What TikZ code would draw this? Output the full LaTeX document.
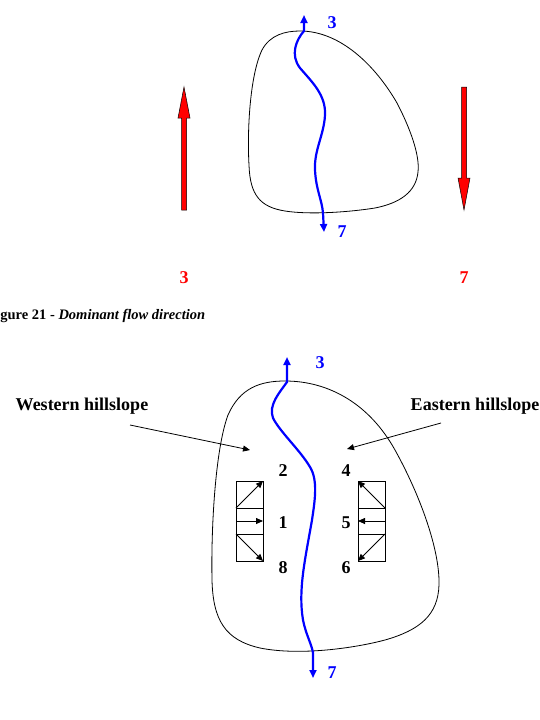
\documentclass[tikz,border=0pt]{standalone}
\usepackage{fontspec}
\setmainfont{Liberation Serif}
\usetikzlibrary{arrows.meta}

\begin{document}
\begin{tikzpicture}[x=1pt, y=-1pt, thick,
  outline/.style={line width=0.8pt, black},
  river/.style={line width=2.2pt, blue, {Triangle[length=8pt,width=7pt]}-{Triangle[length=8pt,width=7pt]}},
  bignum/.style={font=\fontsize{18}{20}\selectfont\bfseries, inner sep=0pt},
  redarrow/.style={fill=red, draw=black, line width=0.5pt},
  flowbox/.style={line width=0.8pt},
  flow/.style={line width=0.8pt, -{Triangle[length=7pt,width=6pt]}}]
  \useasboundingbox (0,0) rectangle (540,720);

  % Upper catchment outline
  \draw[outline] (300,31) .. controls (340,31) and (375,65) .. (397,103)
    .. controls (410,128) and (420,155) .. (418,172)
    .. controls (416,192) and (400,203) .. (375,208)
    .. controls (350,212) and (310,215) .. (285,211)
    .. controls (260,207) and (250,195) .. (249,165)
    .. controls (247,130) and (250,75) .. (262,50)
    .. controls (270,35) and (285,31) .. (300,31) -- cycle;

  % Upper stream
  \draw[river] (304,15) -- (304,31) .. controls (296,40) and (290,55) .. (300,68)
    .. controls (312,82) and (326,95) .. (325,115) .. controls (324,135) and (314,150) .. (315,170)
    .. controls (316,190) and (322,200) .. (323,213) -- (324,232);
  \node[bignum, blue] (up3) at (332,23) {3};
  \node[bignum, blue] (up7) at (342,232) {7};

  % Red arrows for dominant direction
  \filldraw[redarrow] (181.5,210) -- (181.5,118) -- (178,118) -- (184,87) -- (190,118) -- (186.5,118) -- (186.5,210) -- cycle;
  \filldraw[redarrow] (461.5,87) -- (461.5,178) -- (458,178) -- (464,210) -- (470,178) -- (466.5,178) -- (466.5,87) -- cycle;
  \node[bignum, red] (red3) at (184,278) {3};
  \node[bignum, red] (red7) at (464,278) {7};

  % Caption
  \node[anchor=west, inner sep=0pt, font=\fontsize{14.5}{16}\selectfont\bfseries] (caption) at (0,316) {gure 21 - \textit{Dominant flow direction}};

  % Lower catchment outline
  \draw[outline] (285,381) .. controls (330,381) and (370,405) .. (395,450)
    .. controls (420,495) and (440,550) .. (439,585)
    .. controls (438,615) and (420,630) .. (385,640)
    .. controls (355,648) and (300,656) .. (260,648)
    .. controls (225,640) and (213,620) .. (212,580)
    .. controls (211,530) and (215,450) .. (228,415)
    .. controls (240,388) and (260,381) .. (285,381) -- cycle;

  % Lower stream
  \draw[river] (287,357) -- (287,382) .. controls (280,392) and (268,405) .. (273,418)
    .. controls (280,432) and (300,450) .. (310,467) .. controls (318,480) and (315,500) .. (312,520)
    .. controls (305,560) and (298,590) .. (303,620) .. controls (306,635) and (312,645) .. (313,653) -- (313,678);
  \node[bignum, blue] (low3) at (320,363) {3};
  \node[bignum, blue] (low7) at (332,673) {7};

  % Hillslope labels
  \node[bignum] (west) at (82,406) {Western hillslope};
  \node[bignum] (east) at (475,406) {Eastern hillslope};
  \coordinate (westtip) at (250,450);
  \coordinate (easttip) at (347,449);
  \coordinate (westtail) at (130,425);
  \coordinate (easttail) at (441,423);
  \draw[flow] (westtail) -- (westtip);
  \draw[flow] (easttail) -- (easttip);

  % Western directions
  \node[bignum] (d2) at (283,471) {2};
  \node[bignum] (d1) at (283,523) {1};
  \node[bignum] (d8) at (283,568) {8};
  \draw[flowbox] (236,481) rectangle (263,561);
  \draw[flowbox] (236,508) -- (263,508) (236,534) -- (263,534);
  \draw[flow] (236,508) -- (263,481);
  \draw[flow] (236,521) -- (263,521);
  \draw[flow] (236,534) -- (263,561);

  % Eastern directions
  \node[bignum] (d4) at (346,471) {4};
  \node[bignum] (d5) at (346,523) {5};
  \node[bignum] (d6) at (346,568) {6};
  \draw[flowbox] (358,481) rectangle (385,561);
  \draw[flowbox] (358,508) -- (385,508) (358,534) -- (385,534);
  \draw[flow] (385,508) -- (358,481);
  \draw[flow] (385,521) -- (358,521);
  \draw[flow] (385,534) -- (358,561);
\end{tikzpicture}
\end{document}
